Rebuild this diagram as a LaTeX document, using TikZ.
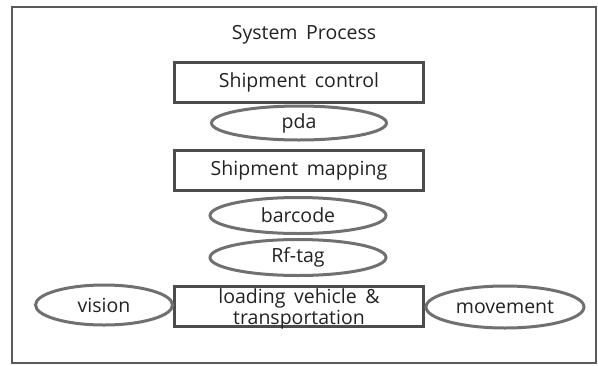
\documentclass[tikz,border=0pt]{standalone}
\usepackage{fontspec}
\setmainfont{Open Sans}[WordSpace=1.7]
\usetikzlibrary{shapes.geometric}
\definecolor{boxc}{HTML}{4C4C4C}
\definecolor{ellc}{HTML}{707070}
\definecolor{framec}{HTML}{5A5A5A}
\definecolor{txt}{HTML}{222222}
\begin{document}
\begin{tikzpicture}[x=1pt,y=-1pt,
  procbox/.style={draw=boxc,line width=3pt,rectangle,minimum width=249pt,minimum height=40pt,inner sep=0pt,font=\fontsize{19.5}{20}\selectfont,text=txt,align=center},
  tagell/.style={draw=ellc,line width=3pt,ellipse,inner sep=0pt,font=\fontsize{19.5}{20}\selectfont,text=txt}]
\useasboundingbox (0,0) rectangle (598,365);
\draw[framec,line width=2.4pt] (12,7) rectangle (596,363);
\node[font=\fontsize{19.5}{20}\selectfont,text=txt,anchor=base,inner sep=0pt] (title) at (304,39) {System Process};
\node[procbox] (sc) at (299,82) {Shipment control};
\node[tagell,minimum width=175pt,minimum height=34pt] (pda) at (299,123) {pda};
\node[procbox] (sm) at (299,170.5) {Shipment mapping};
\node[tagell,minimum width=176pt,minimum height=36pt] (bc) at (298,215.5) {barcode};
\node[tagell,minimum width=176pt,minimum height=36pt] (rf) at (298,257.5) {Rf-tag};
\node[procbox] (lv) at (299,306.5) {};
\node[font=\fontsize{19.5}{20.5}\selectfont,text=txt,align=center,inner sep=0pt] (lvtext) at (299,309) {loading vehicle \&\\transportation};
\node[tagell,minimum width=137pt,minimum height=40pt] (vis) at (104,305) {vision};
\node[tagell,minimum width=158pt,minimum height=42pt] (mov) at (505,307) {movement};
\end{tikzpicture}
\end{document}
